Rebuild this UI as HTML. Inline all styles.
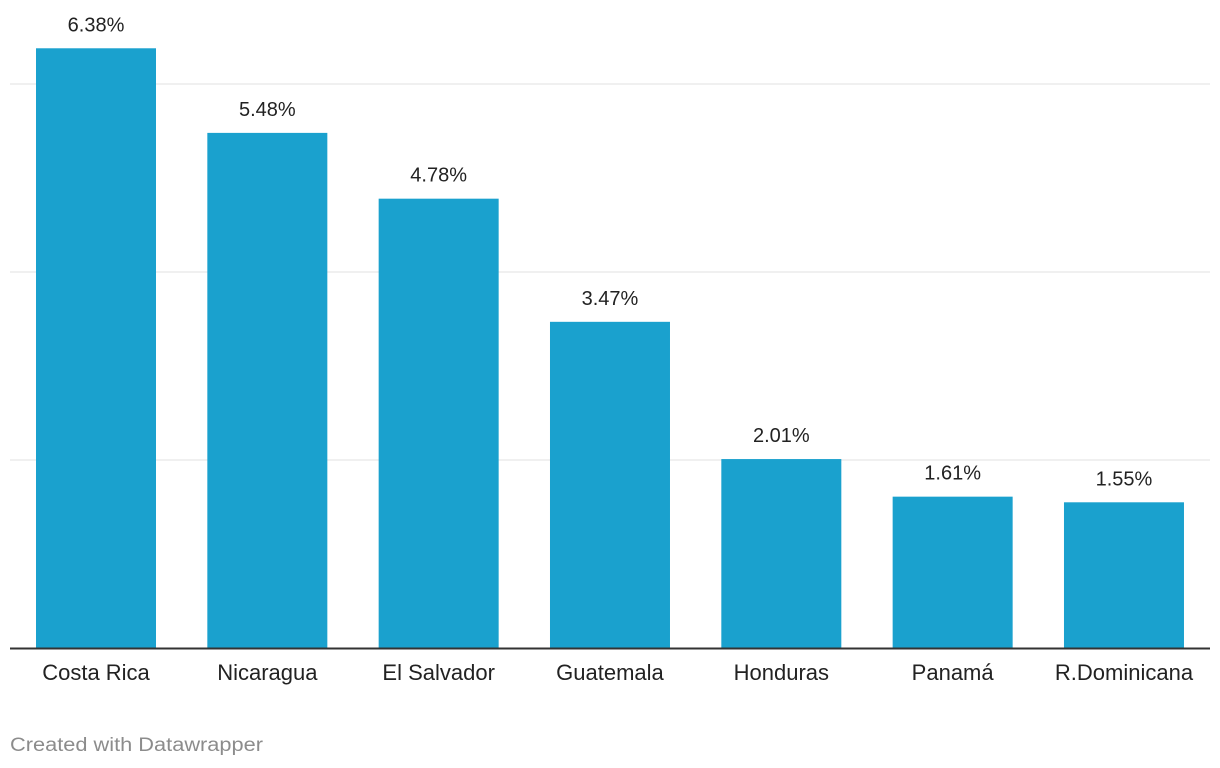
<!DOCTYPE html>
<html><head><meta charset="utf-8"><style>
html,body{margin:0;padding:0;background:#fff;width:1220px;height:768px;overflow:hidden;font-family:"Liberation Sans",sans-serif;}
svg text{font-family:"Liberation Sans",sans-serif;}
</style></head><body>
<svg id="chart" width="1220" height="768"></svg>
<script>
const categories=["Costa Rica","Nicaragua","El Salvador","Guatemala","Honduras","Panamá","R.Dominicana"];
const values=[6.38,5.48,4.78,3.47,2.01,1.61,1.55];
const valueLabels=["6.38%","5.48%","4.78%","3.47%","2.01%","1.61%","1.55%"];
const gridTicks=[2,4,6];
const NS="http://www.w3.org/2000/svg";
const svg=document.getElementById('chart');
const y0=648,pxPerUnit=94,x0=36,step=171.33,bw=120;
const y=v=>y0-v*pxPerUnit;
const x=i=>x0+i*step;
function mk(t,a){const e=document.createElementNS(NS,t);for(const k in a)e.setAttribute(k,a[k]);svg.appendChild(e);return e;}
gridTicks.forEach(t=>{
  const l=mk('line',{x1:10,x2:1210,y1:y(t),y2:y(t),stroke:'#e0e0e0','stroke-width':1});
  
  
});
values.forEach((v,i)=>{
  const r=mk('rect',{x:x(i),y:y(v),width:bw,height:y0-y(v),fill:'#1aa1ce'});
  
  
  const t=mk('text',{x:x(i)+bw/2,y:y(v)-17,'text-anchor':'middle','font-size':20,fill:'#222'});
  t.textContent=valueLabels[i];
  
  
  const c=mk('text',{x:x(i)+bw/2,y:680,'text-anchor':'middle','font-size':22,fill:'#222'});
  c.textContent=categories[i];
  
  
});
const b=mk('line',{x1:10,x2:1210,y1:y0+0.5,y2:y0+0.5,stroke:'#333','stroke-width':2});


const f=mk('text',{x:10,y:751,'font-size':19,fill:'#8c8c8c',textLength:253,lengthAdjust:'spacingAndGlyphs'});
f.textContent='Created with Datawrapper';


</script>
</body></html>
